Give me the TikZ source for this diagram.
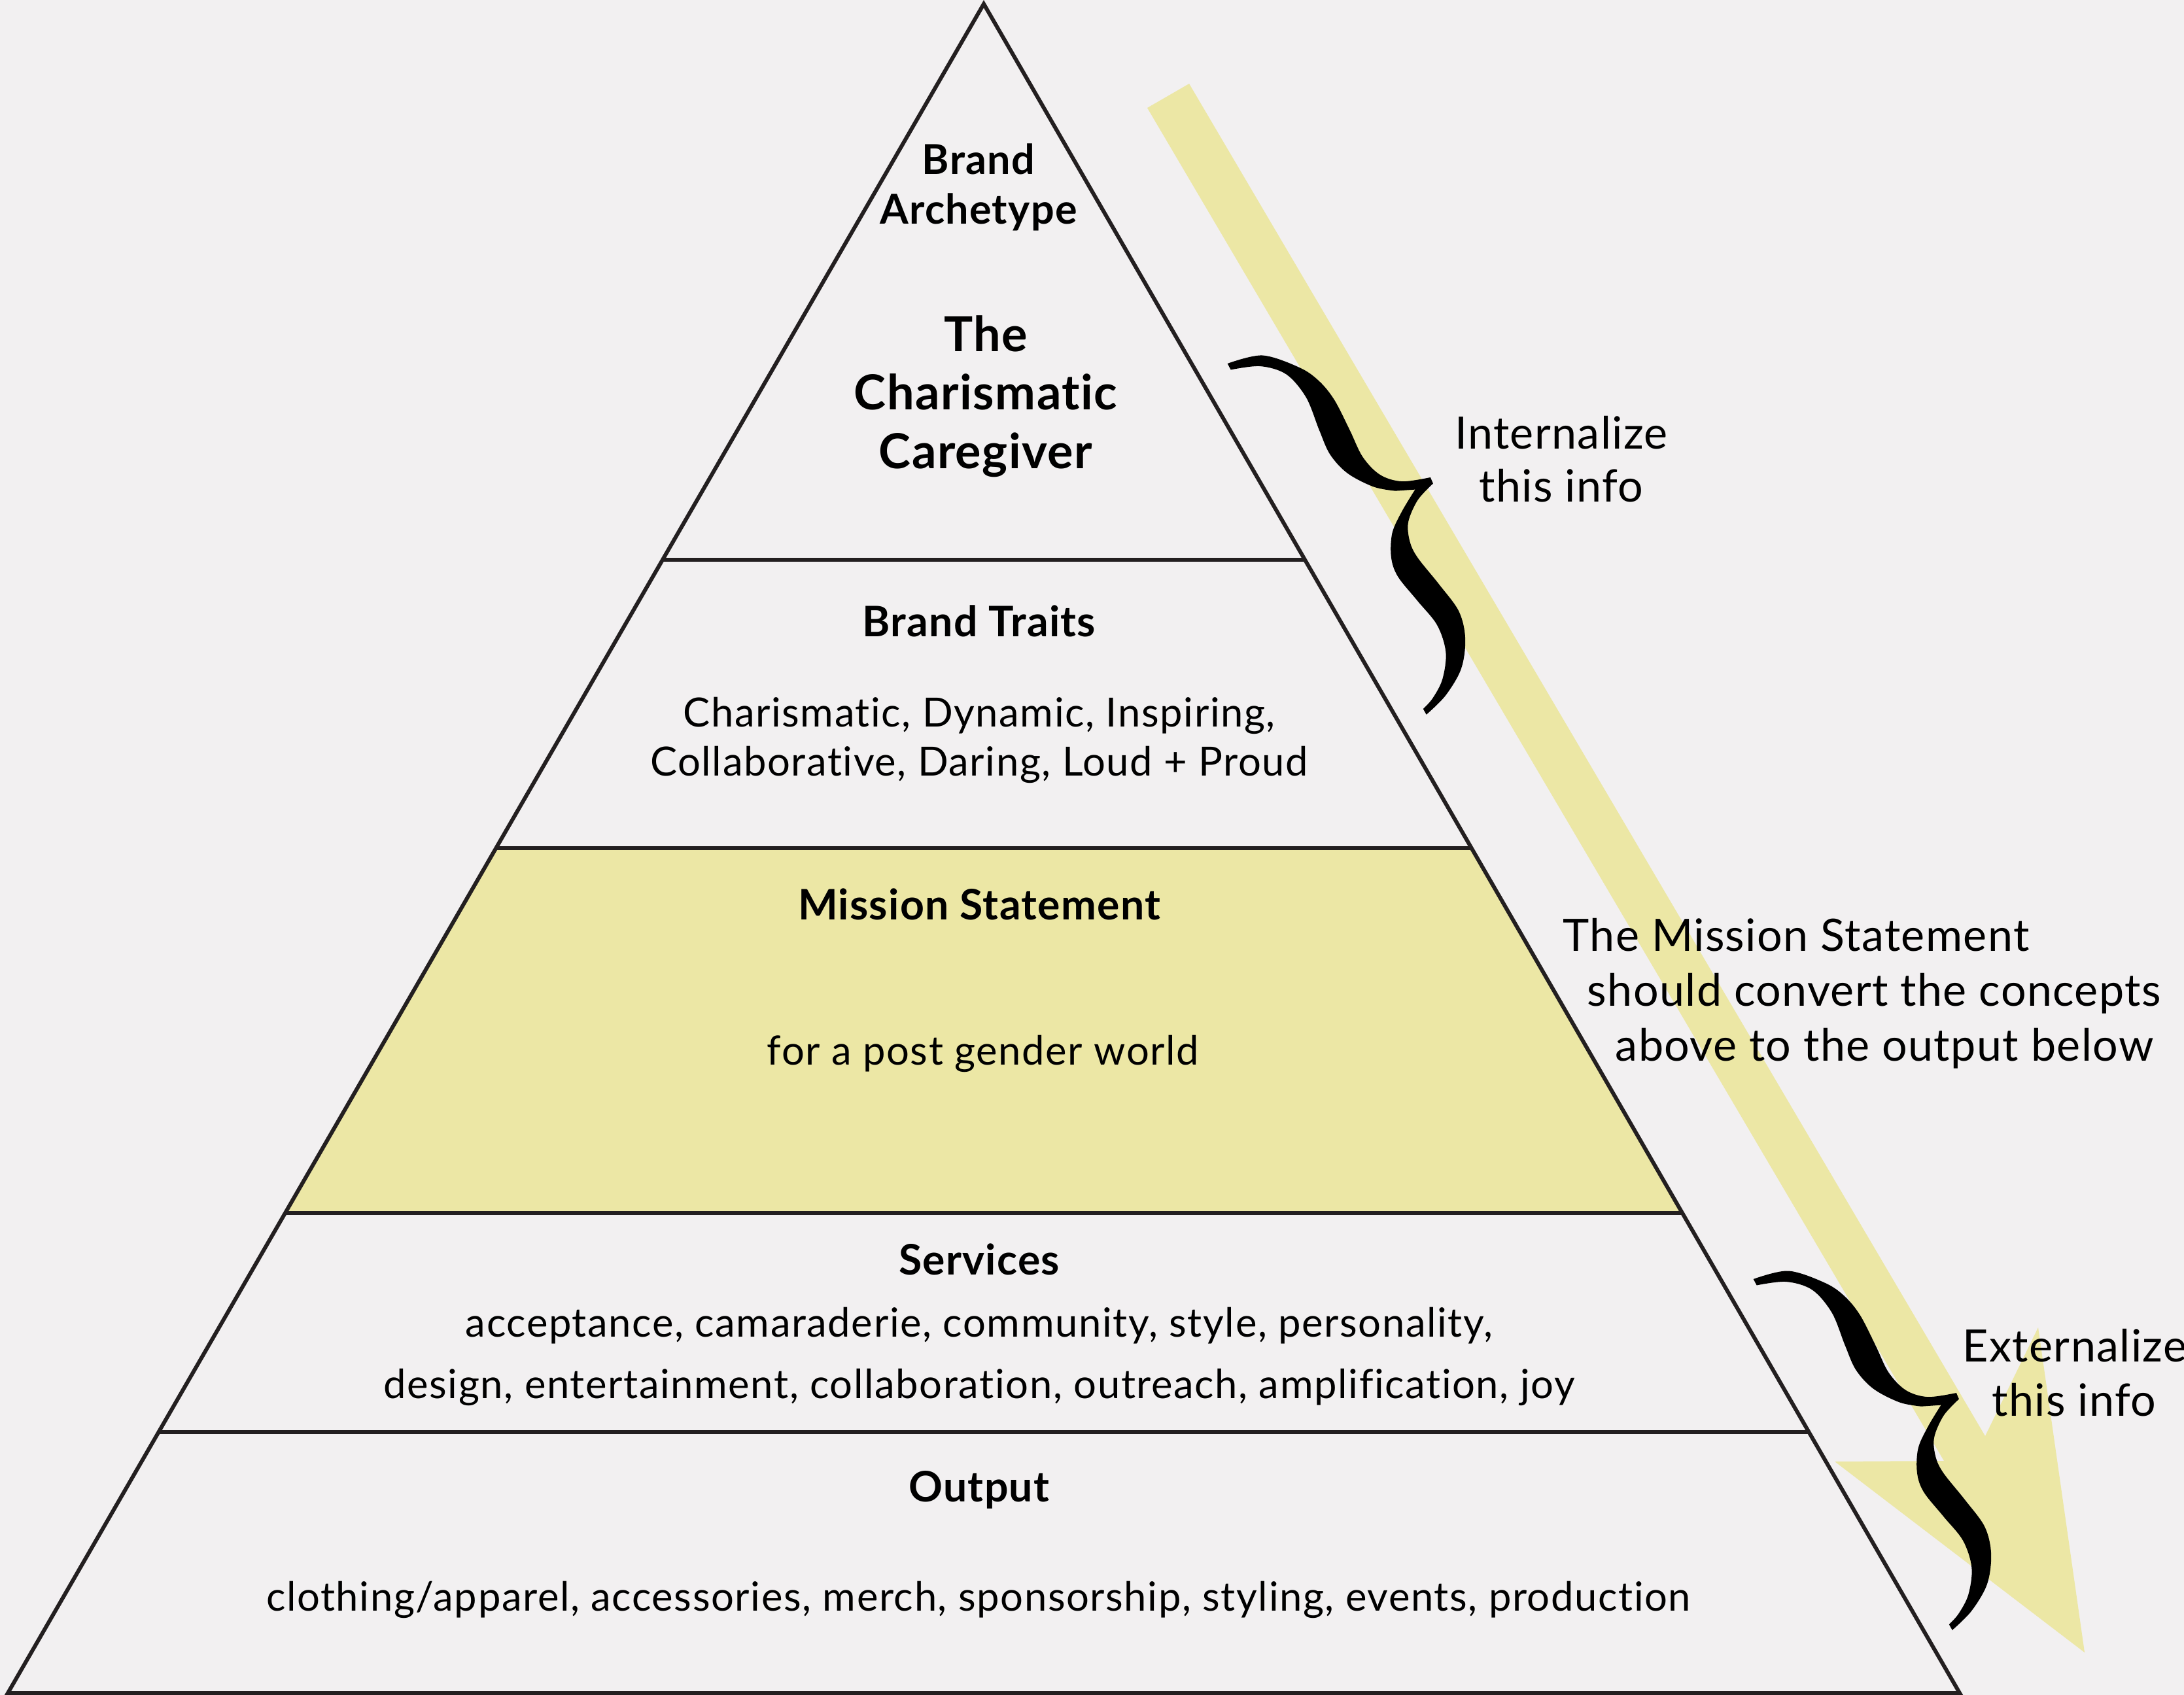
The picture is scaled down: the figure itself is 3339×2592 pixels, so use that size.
\documentclass[tikz,border=0pt]{standalone}
\usepackage{fontspec}
\setmainfont{Lato}[LetterSpace=2.0, Ligatures=NoCommon]
\newfontfamily\bodyfont{Lato}[LetterSpace=2.6, Ligatures=NoCommon]
\usetikzlibrary{calc}
\definecolor{bgc}{RGB}{242,240,241}
\definecolor{ylw}{RGB}{236,231,165}
\definecolor{ink}{RGB}{35,31,32}
\tikzset{
  txt/.style={anchor=base, inner sep=0pt, text=black},
  archf/.style={txt, font=\bfseries\fontsize{17.9pt}{21pt}\selectfont},
  bigf/.style={txt, font=\bfseries\fontsize{21pt}{25pt}\selectfont},
  headf/.style={txt, font=\bfseries\fontsize{18.3pt}{22pt}\selectfont},
  bodyf/.style={txt, font=\bodyfont\fontsize{17.5pt}{21pt}\selectfont},
  sidef/.style={txt, font=\fontsize{19.4pt}{23pt}\selectfont},
  edge/.style={draw=ink, line width=1.7pt, line join=miter},
  bracepic/.pic={
    \fill[black]
      plot[smooth, tension=0.55] coordinates {(0.7,-1.9) (53.3,13.5) (93.5,57.6) (109.4,90.4) (115.5,127) (113.3,178.3) (110.3,224.3) (120,261) (144.2,286.3) (185,302.3)}
      -- plot[smooth, tension=0.55] coordinates {(183.9,312.5) (151,323) (122,345) (109.5,371.5) (107.5,399) (116,451.5) (122,502) (110,543) (82,580) (41,604) (1,615)}
      -- plot[smooth, tension=0.55] coordinates {(1,605) (21.7,598) (49,580) (73.8,546.6) (82.7,504) (74.8,456.7) (67,409.5) (72.7,379) (92.4,347.5) (121.7,326) (155.5,307)}
      -- plot[smooth, tension=0.55] coordinates {(128.3,294) (102.4,272.2) (77.8,234.5) (68.7,196.1) (72.7,155.4) (79.8,102.3) (70.9,56.8) (42.3,26.3) (0.4,8.8)}
      -- cycle;
  }
}
\begin{document}
\begin{tikzpicture}[x=0.01cm, y=-0.01cm]
\useasboundingbox (0,0) rectangle (3339,2592);
\fill[bgc] (0,0) rectangle (3339,2592);
\clip (0,0) rectangle (3339,2592);

% pyramid corners
\coordinate (A) at (1504,6);
\coordinate (L) at (12,2589);
\coordinate (R) at (2996,2589);

% mission band
\fill[ylw] ($(A)!0.4998!(L)$) -- ($(A)!0.4998!(R)$) -- ($(A)!0.7158!(R)$) -- ($(A)!0.7158!(L)$) -- cycle;

% big arrow
\fill[ylw] (1754,165) -- (1818,128) -- (3035,2196) -- (3116,2030) -- (3187,2527) -- (2805,2235) -- (2972,2234) -- cycle;

% pyramid outline and tiers
\draw[edge] (A) -- (R) -- (L) -- cycle;
\draw[edge] ($(A)!0.3291!(L)$) -- ($(A)!0.3291!(R)$);
\draw[edge] ($(A)!0.4998!(L)$) -- ($(A)!0.4998!(R)$);
\draw[edge] ($(A)!0.7158!(L)$) -- ($(A)!0.7158!(R)$);
\draw[edge] ($(A)!0.8455!(L)$) -- ($(A)!0.8455!(R)$);

% braces
\pic[rotate=29.5] at (1877,558) {bracepic};
\pic[rotate=29.5] at (2681,1958) {bracepic};

% pyramid texts
\node[archf] (brand1) at (1496,267) {Brand};
\node[archf] (brand2) at (1496,343) {Archetype};
\node[bigf] (arch1) at (1507,538) {The};
\node[bigf] (arch2) at (1507,627) {Charismatic};
\node[bigf] (arch3) at (1507,717) {Caregiver};
\node[headf] (traits) at (1497,974) {Brand Traits};
\node[bodyf] (traitsA) at (1497,1112) {Charismatic, Dynamic, Inspiring,};
\node[bodyf] (traitsB) at (1497,1187) {Collaborative, Daring, Loud + Proud};
\node[headf] (mission) at (1497,1406) {Mission Statement};
\node[bodyf] (missionA) at (1503,1628) {for a post gender world};
\node[headf] (services) at (1497,1949) {Services};
\node[bodyf] (servA) at (1497,2044) {acceptance, camaraderie, community, style, personality,};
\node[bodyf] (servB) at (1497,2138) {design, entertainment, collaboration, outreach, amplification, joy};
\node[headf] (output) at (1497,2296) {Output};
\node[bodyf] (outA) at (1496,2463) {clothing/apparel, accessories, merch, sponsorship, styling, events, production};

% side texts
\node[sidef] (int1) at (2387,687) {Internalize};
\node[sidef] (int2) at (2387,768) {this info};
\node[sidef, anchor=base west] (ms1) at (2389,1455) {The Mission Statement};
\node[sidef, anchor=base west] (ms2) at (2426,1538) {should convert the concepts};
\node[sidef, anchor=base west] (ms3) at (2469,1622) {above to the output below};
\node[sidef] (ext1) at (3172,2082) {Externalize};
\node[sidef] (ext2) at (3171,2165) {this info};
\end{tikzpicture}
\end{document}
